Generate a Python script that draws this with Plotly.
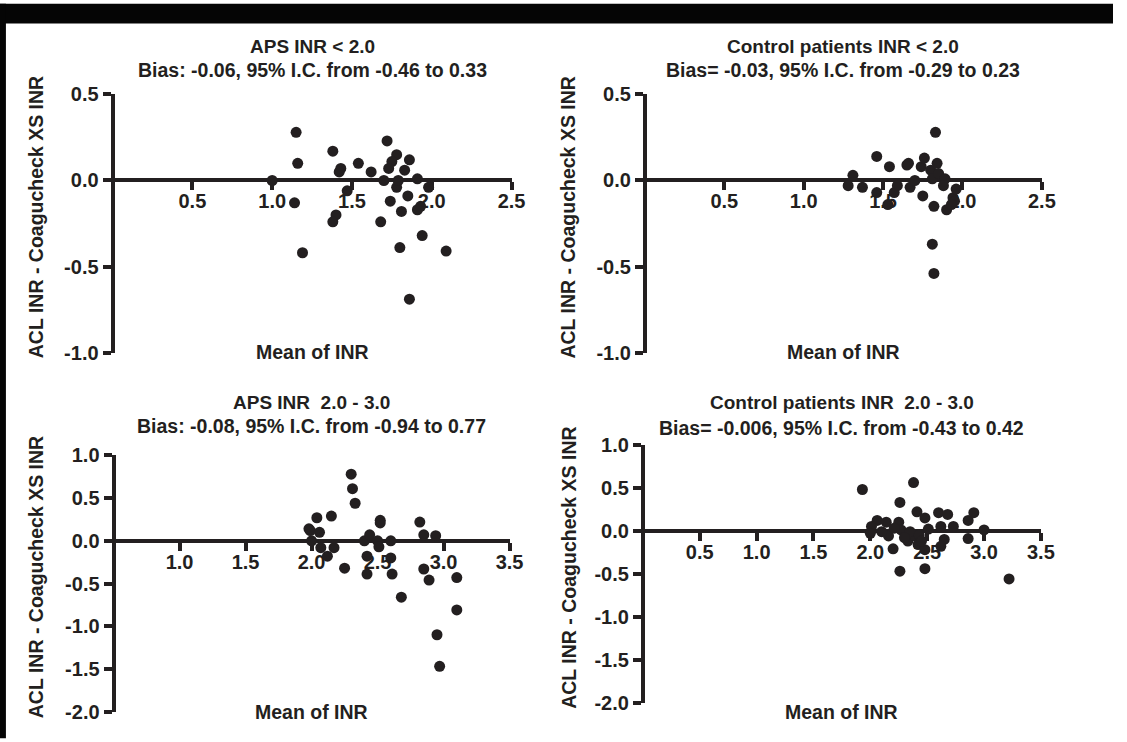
import plotly.graph_objects as go

# ---------------- data ----------------
aps_lt2_mean = [1.15, 1.16, 1.00, 1.14, 1.19, 1.38, 1.43, 1.42, 1.54, 1.47, 1.40, 1.38, 1.62, 1.68,
                1.72, 1.70, 1.78, 1.75, 1.73, 1.78, 1.79, 1.74, 1.83, 1.86, 1.81, 1.80, 1.85, 1.86,
                1.91, 1.93, 1.91, 1.94, 1.98, 2.09]
aps_lt2_diff = [0.28, 0.10, 0.00, -0.13, -0.42, 0.17, 0.07, 0.05, 0.10, -0.06, -0.20, -0.24, 0.05, -0.24,
                0.23, 0.00, 0.15, 0.11, 0.07, -0.04, 0.00, -0.12, 0.06, 0.12, -0.18, -0.39, -0.09, -0.69,
                0.01, -0.15, -0.17, -0.32, -0.04, -0.41]

ctl_lt2_mean = [1.31, 1.28, 1.37, 1.46, 1.46, 1.53, 1.54, 1.57, 1.59, 1.65, 1.66, 1.67, 1.70, 1.74,
                1.76, 1.75, 1.80, 1.81, 1.83, 1.84, 1.82, 1.81, 1.82, 1.85, 1.89, 1.88, 1.94, 1.90,
                1.95, 1.96, 1.93]
ctl_lt2_diff = [0.03, -0.03, -0.04, 0.14, -0.07, -0.14, 0.08, -0.07, -0.03, 0.09, 0.10, -0.04, 0.00, 0.08,
                0.13, -0.09, 0.06, 0.01, 0.28, 0.10, -0.15, -0.37, -0.54, 0.04, 0.01, -0.03, -0.10, -0.17,
                -0.12, -0.05, -0.14]

aps_23_mean = [1.98, 1.99, 2.04, 2.06, 2.00, 2.07, 2.15, 2.12, 2.17, 2.25, 2.30, 2.31, 2.33, 2.40,
               2.44, 2.42, 2.42, 2.50, 2.51, 2.52, 2.52, 2.60, 2.60, 2.61, 2.68, 2.82, 2.85, 2.85,
               2.89, 2.94, 2.95, 2.97, 3.10, 3.10]
aps_23_diff = [0.14, 0.12, 0.27, 0.10, 0.00, -0.08, 0.29, -0.18, -0.08, -0.32, 0.78, 0.61, 0.44, 0.00,
               0.07, -0.18, -0.39, 0.00, -0.07, 0.24, 0.21, 0.00, -0.20, -0.39, -0.66, 0.22, 0.07, -0.33,
               -0.46, 0.06, -1.10, -1.47, -0.43, -0.81]

ctl_23_mean = [1.93, 2.38, 2.26, 2.41, 2.48, 2.06, 2.01, 2.14, 2.25, 2.16, 2.20, 2.26, 2.33, 2.39,
               2.42, 2.48, 2.48, 2.51, 2.60, 2.68, 2.62, 2.73, 2.65, 2.62, 2.86, 2.91, 2.86, 3.00,
               2.27, 2.35, 2.10, 2.43, 2.30, 2.00, 3.22, 2.21, 2.45]
ctl_23_diff = [0.48, 0.56, 0.33, 0.22, 0.15, 0.12, 0.05, 0.10, 0.10, -0.06, -0.21, -0.47, -0.12, -0.06,
               -0.16, -0.22, -0.44, 0.02, 0.21, 0.19, 0.05, 0.05, -0.10, -0.18, 0.12, 0.21, -0.09, 0.01,
               0.01, -0.01, -0.01, -0.05, -0.08, -0.03, -0.56, 0.03, -0.12]

titles_line1 = ["APS INR < 2.0", "Control patients INR < 2.0",
                "APS INR  2.0 - 3.0", "Control patients INR  2.0 - 3.0"]
titles_line2 = ["Bias: -0.06, 95% I.C. from -0.46 to 0.33",
                "Bias= -0.03, 95% I.C. from -0.29 to 0.23",
                "Bias: -0.08, 95% I.C. from -0.94 to 0.77",
                "Bias= -0.006, 95% I.C. from -0.43 to 0.42"]
x_title = "Mean of INR"
y_title = "ACL INR - Coagucheck XS INR"

x_ticks_lt2 = [0.5, 1.0, 1.5, 2.0, 2.5]
x_ticks_aps23 = [1.0, 1.5, 2.0, 2.5, 3.0, 3.5]
x_ticks_ctl23 = [0.5, 1.0, 1.5, 2.0, 2.5, 3.0, 3.5]
y_ticks_lt2 = [0.5, 0.0, -0.5, -1.0]
y_ticks_23 = [1.0, 0.5, 0.0, -0.5, -1.0, -1.5, -2.0]

# ---------------- layout helpers ----------------
W, H = 1127, 742
INK = "#231f20"
FONT = "Liberation Sans, Arial, Helvetica, sans-serif"


def fx(px):
    return px / W


def fy(py):
    return 1 - py / H


panels = [
    dict(x=aps_lt2_mean, y=aps_lt2_diff, xr=[0, 2.5], yr=[-1.0, 0.5], xt=x_ticks_lt2, yt=y_ticks_lt2,
         px=(114, 518), py=(86, 352), t1=37, t2=61, xlab_y=351, ylab_x=36),
    dict(x=ctl_lt2_mean, y=ctl_lt2_diff, xr=[0, 2.5], yr=[-1.0, 0.5], xt=x_ticks_lt2, yt=y_ticks_lt2,
         px=(653, 1055), py=(86, 352), t1=37, t2=61, xlab_y=351, ylab_x=575),
    dict(x=aps_23_mean, y=aps_23_diff, xr=[0.5, 3.5], yr=[-2.0, 1.0], xt=x_ticks_aps23, yt=y_ticks_23,
         px=(115, 516), py=(458, 722), t1=403, t2=428, xlab_y=722, ylab_x=36),
    dict(x=ctl_23_mean, y=ctl_23_diff, xr=[0, 3.5], yr=[-2.0, 1.0], xt=x_ticks_ctl23, yt=y_ticks_23,
         px=(651, 1054), py=(447, 713), t1=403, t2=430, xlab_y=722, ylab_x=576),
]

fig = go.Figure()
annotations = []
layout_axes = {}

for i, p in enumerate(panels, start=1):
    xa = "x" if i == 1 else f"x{i}"
    ya = "y" if i == 1 else f"y{i}"
    fig.add_trace(go.Scatter(
        x=p["x"], y=p["y"], mode="markers", xaxis=xa, yaxis=ya,
        marker=dict(size=11, color=INK, line=dict(width=0)),
        showlegend=False, cliponaxis=False, hoverinfo="x+y"))

    px0, px1 = p["px"]
    py_top, py_bot = p["py"]
    ymin, ymax = p["yr"]
    py_zero = py_top + (ymax - 0) / (ymax - ymin) * (py_bot - py_top)

    axis_common = dict(showline=True, linewidth=4, linecolor=INK, ticks="outside", ticklen=8,
                       tickwidth=4, tickcolor=INK, showgrid=False, zeroline=False,
                       tickfont=dict(family=FONT, size=20, color=INK, weight="bold"),
                       layer="below traces", fixedrange=True)
    layout_axes["xaxis" if i == 1 else f"xaxis{i}"] = dict(
        axis_common, domain=[fx(px0), fx(px1)], range=p["xr"], anchor="free",
        position=fy(py_zero), tickvals=p["xt"], ticktext=[f"{v:.1f}" for v in p["xt"]],
        ticklabelstandoff=-6)
    layout_axes["yaxis" if i == 1 else f"yaxis{i}"] = dict(
        axis_common, domain=[fy(py_bot), fy(py_top)], range=p["yr"], anchor="free",
        position=fx(px0), tickvals=p["yt"], ticktext=[f"{v:.1f}" for v in p["yt"]])

    cx = (px0 + px1) / 2
    annotations.append(dict(x=fx(cx), y=fy(p["t1"]), xref="paper", yref="paper", text=titles_line1[i - 1],
                            showarrow=False, xanchor="center", yanchor="middle",
                            font=dict(family=FONT, size=19, color=INK, weight="bold")))
    annotations.append(dict(x=fx(cx), y=fy(p["t2"]), xref="paper", yref="paper", text=titles_line2[i - 1],
                            showarrow=False, xanchor="center", yanchor="middle",
                            font=dict(family=FONT, size=19.5, color=INK, weight="bold")))
    annotations.append(dict(x=fx(cx), y=fy(p["xlab_y"]), xref="paper", yref="paper", text=x_title,
                            showarrow=False, xanchor="center", yanchor="middle",
                            font=dict(family=FONT, size=19.5, color=INK, weight="bold")))
    annotations.append(dict(x=fx(p["ylab_x"]), y=fy((py_top + py_bot) / 2 - 6), xref="paper", yref="paper",
                            text=y_title, textangle=-90, showarrow=False, xanchor="center",
                            yanchor="middle",
                            font=dict(family=FONT, size=19.5, color=INK, weight="bold")))

shapes = [
    dict(type="rect", xref="paper", yref="paper", x0=0, x1=1, y0=fy(13), y1=1.01,
         fillcolor="#050505", line=dict(width=0), layer="above"),
    dict(type="rect", xref="paper", yref="paper", x0=-0.01, x1=fx(6), y0=-0.01, y1=1.01,
         fillcolor="#050505", line=dict(width=0), layer="above"),
]

fig.update_layout(
    autosize=True, margin=dict(l=0, r=0, t=0, b=0),
    paper_bgcolor="white", plot_bgcolor="rgba(0,0,0,0)",
    annotations=annotations, shapes=shapes, showlegend=False,
    font=dict(family=FONT, color=INK),
    **layout_axes,
)

post = ("document.documentElement.style.margin='0';document.documentElement.style.padding='0';"
        "document.documentElement.style.overflow='hidden';"
        "document.body.style.margin='0';document.body.style.padding='0';document.body.style.overflow='hidden';"
        "var gd=document.getElementById('{plot_id}');gd.style.position='fixed';gd.style.left='0';gd.style.top='0';"
        "gd.style.width='100vw';gd.style.height='100vh';Plotly.Plots.resize(gd);")

fig.write_html("out.html", default_width="100vw", default_height="100vh",
               config={"displayModeBar": False, "responsive": True}, post_script=post)
